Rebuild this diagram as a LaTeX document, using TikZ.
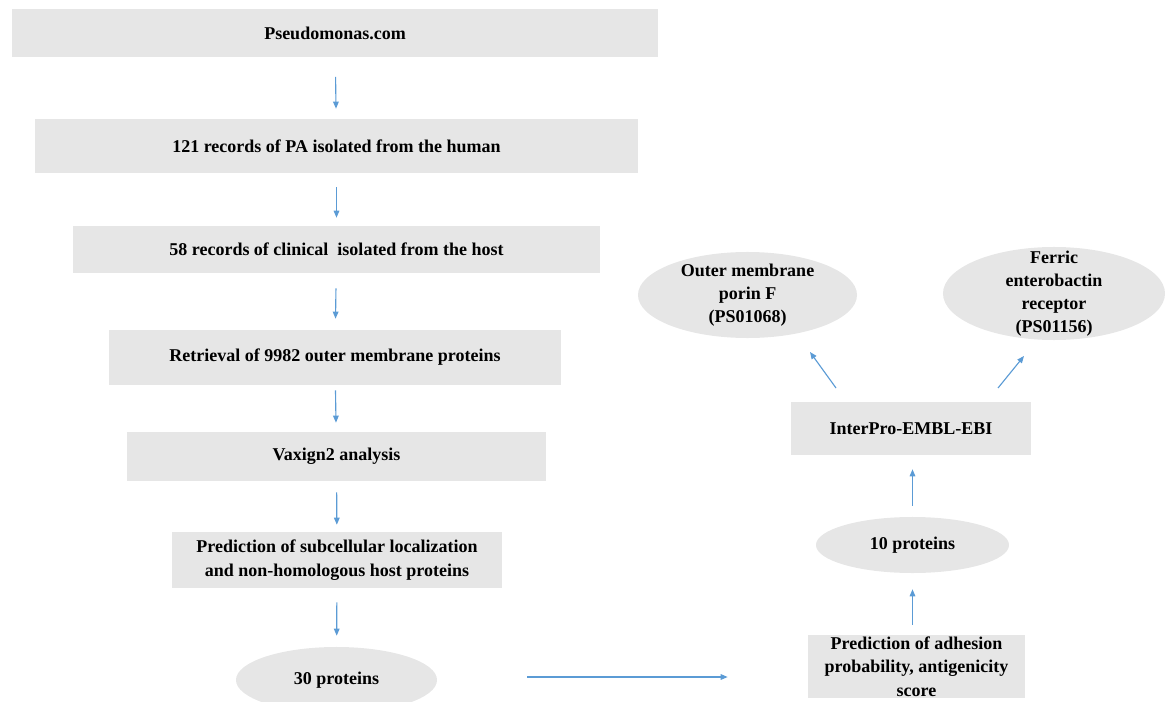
\documentclass[tikz,border=0pt]{standalone}
\usepackage{fontspec}
\setmainfont{Liberation Serif}
\usetikzlibrary{arrows.meta,shapes.geometric}

\definecolor{boxgray}{RGB}{230,230,230}
\definecolor{arrblue}{RGB}{91,155,213}

\tikzset{
  stepbox/.style={rectangle, fill=boxgray, inner sep=0pt, align=center,
    font=\fontsize{12.8pt}{16.8pt}\selectfont\bfseries},
  oval/.style={ellipse, fill=boxgray, inner sep=0pt, align=center,
    font=\fontsize{12.8pt}{16.8pt}\selectfont\bfseries},
  ovaltext/.style={inner sep=0pt, align=center,
    font=\fontsize{12.8pt}{16.4pt}\selectfont\bfseries},
  arr/.style={draw=arrblue, line width=0.8pt,
    -{Triangle[length=5pt,width=4pt]}}
}

\begin{document}
\begin{tikzpicture}[x=0.025cm,y=-0.025cm]
            \useasboundingbox (0,0) rectangle (1165,702);
            % left column
            \node[stepbox, minimum width=16.15cm, minimum height=1.175cm] (src) at (335,33) {Pseudomonas.com};
            \node[stepbox, minimum width=15.075cm, minimum height=1.35cm] (rec) at (336.5,146) {121 records of PA isolated from the human};
            \node[stepbox, minimum width=13.175cm, minimum height=1.175cm] (clin) at (336.5,249.5) {58 records of clinical~ isolated from the host};
            \node[stepbox, minimum width=11.3cm, minimum height=1.375cm] (omp) at (335,357.5) {Retrieval of 9982 outer membrane proteins};
            \node[stepbox, minimum width=10.475cm, minimum height=1.225cm] (vax) at (336.5,456.5) {Vaxign2 analysis};
            \node[stepbox, minimum width=8.25cm, minimum height=1.4cm] (loc) at (337,560) {Prediction of subcellular localization\\and non-homologous host proteins};
            \node[oval, minimum width=5.025cm, minimum height=1.65cm] (p30) at (336.5,680) {30 proteins};
            % right column
            \node[stepbox, minimum width=5.425cm, minimum height=1.575cm] (adh) at (916.5,666.5) {Prediction of adhesion\\probability, antigenicity\\score};
            \node[oval, minimum width=4.825cm, minimum height=1.4cm] (p10) at (912.5,545) {10 proteins};
            \node[stepbox, minimum width=6cm, minimum height=1.325cm] (ipr) at (911,428.5) {InterPro-EMBL-EBI};
            \node[oval, minimum width=5.475cm, minimum height=2.15cm,
              label={[ovaltext]center:{Outer membrane\\porin F\\(PS01068)}}] (oprf) at (747.5,295) {};
            \node[oval, minimum width=5.55cm, minimum height=2.325cm,
              label={[ovaltext]center:{Ferric\\enterobactin\\receptor\\(PS01156)}}] (fer) at (1054,293.5) {};
            \coordinate (oprfin) at (836,388);
            \coordinate (oprfout) at (810,352);
            \coordinate (ferin) at (998,388);
            \coordinate (ferout) at (1024,356);

            \draw[arr, shorten <=0.5cm, shorten >=0.25cm] (src) -- (rec);
            \draw[arr, shorten <=0.35cm, shorten >=0.2cm] (rec) -- (clin);
            \draw[arr, shorten <=0.375cm, shorten >=0.275cm] (clin) -- (omp);
            \draw[arr, shorten <=0.125cm, shorten >=0.225cm] (omp) -- (vax);
            \draw[arr, shorten <=0.275cm, shorten >=0.175cm] (vax) -- (loc);
            \draw[arr, shorten <=0.35cm, shorten >=0.275cm] (loc) -- (p30);
            \draw[arr, shorten <=2.25cm, shorten >=2cm] ([yshift=0.075cm]p30.east) -- ([yshift=0.075cm]p30.east -| adh.west);
            \draw[arr, shorten <=0.25cm, shorten >=0.4cm] (adh.north -| p10.south) -- (p10.south);
            \draw[arr, shorten <=0.275cm, shorten >=0.35cm] (p10.north) -- (p10.north |- ipr.south);
            \draw[arr] (oprfin) -- (oprfout);
            \draw[arr] (ferin) -- (ferout);
\end{tikzpicture}
\end{document}
